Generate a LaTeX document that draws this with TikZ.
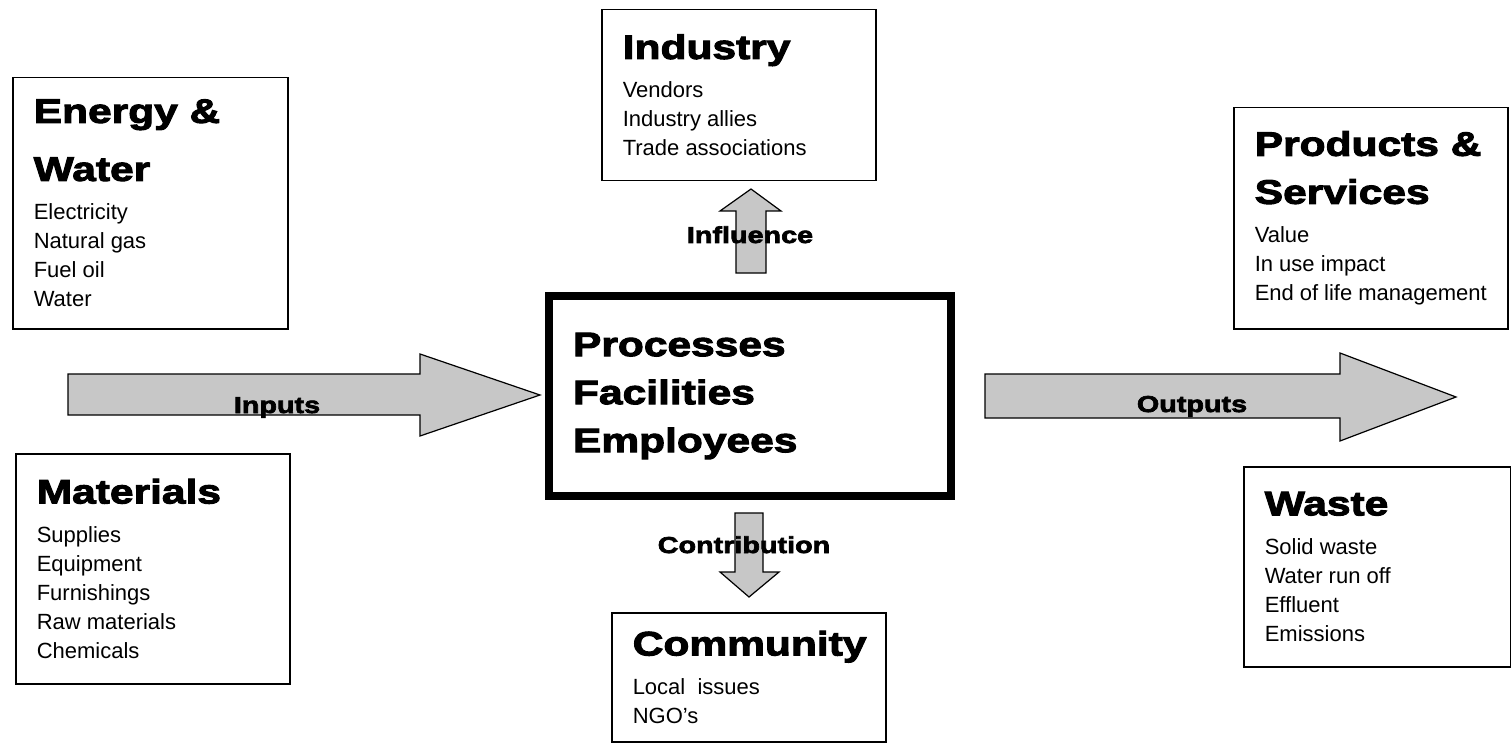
\documentclass[tikz,border=0pt]{standalone}
\usepackage{fontspec}
\setmainfont{Liberation Sans}
\newfontfamily\heavyfont{Liberation Sans}[FakeStretch=1.25, BoldFeatures={FakeBold=3}]
\usepackage{tikz}

\newcommand{\boxhead}{\heavyfont\bfseries\fontsize{34}{48}\selectfont\spaceskip=0pt\xspaceskip=0pt}
\newcommand{\boxbody}{\par\vspace{10pt}\normalfont\fontsize{22}{29}\selectfont\spaceskip=0pt\xspaceskip=0pt}
\newcommand{\arrowfont}{\heavyfont\bfseries\fontsize{23}{28}\selectfont}

\tikzset{
    infobox/.style={draw, line width=1.5pt, anchor=north west, align=left,
        inner xsep=21pt, inner ysep=0pt},
    corebox/.style={draw, line width=8pt, anchor=north west, align=left,
        inner xsep=24pt, inner ysep=0pt, text width=354pt, minimum height=200pt},
    blockarrow/.style={draw, line width=1.2pt, fill=black!22, line join=miter},
    arrowlabel/.style={anchor=base, inner sep=0pt, font=\arrowfont}
}

\begin{document}
\begin{tikzpicture}[x=1pt, y=-1pt]
            \path[fill=white, use as bounding box] (0,0) rectangle (1511,743);

            \draw[blockarrow] (68,374) -- (420,374) -- (420,354) -- (540,395)
                -- (420,436) -- (420,415) -- (68,415) -- cycle;
            \draw[blockarrow] (985,374) -- (1340,374) -- (1340,353) -- (1456,397)
                -- (1340,441) -- (1340,418) -- (985,418) -- cycle;
            \draw[blockarrow] (736,273) -- (736,211) -- (720,211) -- (751,189)
                -- (781,211) -- (766,211) -- (766,273) -- cycle;
            \draw[blockarrow] (735,513) -- (735,572) -- (720,572) -- (749,597)
                -- (779,572) -- (763,572) -- (763,513) -- cycle;

            \node[arrowlabel] (inputs) at (277,413) {Inputs};
            \node[arrowlabel] (outputs) at (1192,412) {Outputs};
            \node[arrowlabel] (influence) at (750,243) {Influence};
            \node[arrowlabel] (contribution) at (744,553) {Contribution};

            \node[corebox] (core) at (545,292) {\boxhead Processes\\ Facilities\\ Employees\par\vspace{12pt}};

            \node[infobox, text width=233pt, minimum height=251pt] (energy) at (12,77)
                {\boxhead Energy \&\\[10pt] Water
                 \boxbody Electricity\\ Natural gas\\ Fuel oil\\ Water\par};
            \node[infobox, text width=232pt, minimum height=230pt] (materials) at (15,453)
                {\boxhead Materials
                 \boxbody Supplies\\ Equipment\\ Furnishings\\ Raw materials\\ Chemicals\par};
            \node[infobox, text width=232pt, minimum height=171pt] (industry) at (601,9)
                {\boxhead Industry
                 \boxbody Vendors\\ Industry allies\\ Trade associations\par};
            \node[infobox, text width=232pt, minimum height=129pt] (community) at (611,612)
                {\boxhead Community
                 \boxbody Local\ \ issues\\ NGO’s\par\vspace{12pt}};
            \node[infobox, text width=232pt, minimum height=221pt] (products) at (1233,107)
                {\boxhead Products \&\\ Services
                 \boxbody Value\\ In use impact\\ End of life management\par};
            \node[infobox, text width=225pt, minimum height=200pt] (waste) at (1243,466)
                {\boxhead Waste
                 \boxbody Solid waste\\ Water run off\\ Effluent\\ Emissions\par};
        \end{tikzpicture}
\end{document}
